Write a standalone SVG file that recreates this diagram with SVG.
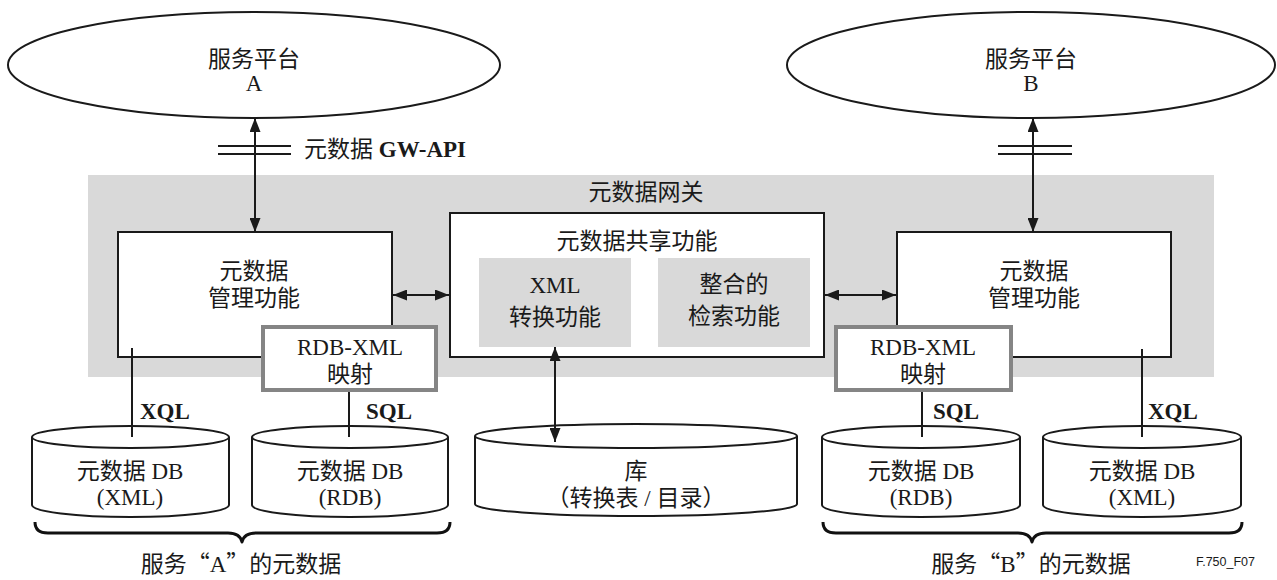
<svg xmlns="http://www.w3.org/2000/svg" width="1277" height="580" viewBox="0 0 1277 580">
  <defs>
    <style>
      .t { font-family: "Liberation Serif", "Noto Sans CJK SC", serif; font-size: 23px; fill: #1a1a1a; text-anchor: middle; }
      .q { font-family: "Noto Sans CJK SC", sans-serif; }
      .b { font-weight: bold; }
      .code { font-family: "Liberation Sans", Arial, sans-serif; font-size: 12.5px; fill: #1a1a1a; text-anchor: end; }
      .box { fill: #ffffff; stroke: #1a1a1a; stroke-width: 2; }
      .zone { fill: #d9d9d9; }
      .sub { fill: #d9d9d9; }
      .map { fill: #ffffff; stroke: #858585; stroke-width: 4; }
      .cyl { fill: #ffffff; stroke: #1a1a1a; stroke-width: 2; }
      .ln { stroke: #1a1a1a; stroke-width: 2; fill: none; }
      .arr { stroke: #1a1a1a; stroke-width: 2; fill: none; marker-start: url(#ah); marker-end: url(#ah); }
      .brace { stroke: #111111; stroke-width: 3; fill: none; stroke-linejoin: round; }
    </style>
    <marker id="ah" viewBox="0 0 14 11" refX="14" refY="5.5" markerWidth="14" markerHeight="11" markerUnits="userSpaceOnUse" orient="auto-start-reverse">
      <path d="M0,0 L14,5.5 L0,11 z" fill="#1a1a1a"/>
    </marker>
  </defs>

  <rect width="1277" height="580" fill="#ffffff"/>

  <!-- gateway zone -->
  <g id="gateway">
    <rect class="zone" x="88" y="175" width="1126" height="202"/>
    <text class="t" x="646" y="200">元数据网关</text>
  </g>

  <!-- service platforms -->
  <g id="platform-a">
    <ellipse class="box" cx="254" cy="65" rx="246" ry="53"/>
    <text class="t" x="254" y="67">服务平台</text>
    <text class="t" x="254" y="91">A</text>
  </g>
  <g id="platform-b">
    <ellipse class="box" cx="1031" cy="65" rx="244" ry="53"/>
    <text class="t" x="1031" y="67">服务平台</text>
    <text class="t" x="1031" y="91">B</text>
  </g>

  <!-- management functions -->
  <g id="mgmt-a">
    <rect class="box" x="118" y="232" width="274" height="125"/>
    <text class="t" x="254" y="279">元数据</text>
    <text class="t" x="254" y="306">管理功能</text>
  </g>
  <g id="mgmt-b">
    <rect class="box" x="897" y="232" width="274" height="125"/>
    <text class="t" x="1034" y="279">元数据</text>
    <text class="t" x="1034" y="306">管理功能</text>
  </g>

  <!-- sharing function -->
  <g id="sharing">
    <rect class="box" x="450" y="213" width="374" height="144"/>
    <text class="t" x="637" y="249">元数据共享功能</text>
    <g id="xml-conv">
      <rect class="sub" x="479" y="258" width="152" height="89"/>
      <text class="t" x="555" y="293">XML</text>
      <text class="t" x="555" y="325">转换功能</text>
    </g>
    <g id="search">
      <rect class="sub" x="658" y="258" width="152" height="89"/>
      <text class="t" x="734" y="292">整合的</text>
      <text class="t" x="734" y="324">检索功能</text>
    </g>
  </g>

  <!-- RDB-XML mappings -->
  <g id="map-a">
    <rect class="map" x="263" y="327" width="173" height="63"/>
    <text class="t" x="350" y="355">RDB-XML</text>
    <text class="t" x="350" y="382">映射</text>
  </g>
  <g id="map-b">
    <rect class="map" x="836" y="327" width="175" height="63"/>
    <text class="t" x="923" y="355">RDB-XML</text>
    <text class="t" x="923" y="382">映射</text>
  </g>

  <!-- databases -->
  <g id="db-a-xml">
    <path class="cyl" d="M32,437 V505 A98.5,12 0 0 0 229,505 V437"/>
    <ellipse class="cyl" cx="130.5" cy="437" rx="98.5" ry="11"/>
    <text class="t" x="130" y="479">元数据 DB</text>
    <text class="t" x="130" y="505">(XML)</text>
  </g>
  <g id="db-a-rdb">
    <path class="cyl" d="M252,437 V505 A98,12 0 0 0 448,505 V437"/>
    <ellipse class="cyl" cx="350" cy="437" rx="98" ry="11"/>
    <text class="t" x="350" y="479">元数据 DB</text>
    <text class="t" x="350" y="505">(RDB)</text>
  </g>
  <g id="repository">
    <path class="cyl" d="M475,436 V504 A161,12 0 0 0 797,504 V436"/>
    <ellipse class="cyl" cx="636" cy="436" rx="161" ry="12"/>
    <text class="t" x="636" y="479">库</text>
    <text class="t" x="636" y="506">（转换表 / 目录）</text>
  </g>
  <g id="db-b-rdb">
    <path class="cyl" d="M822,437 V505 A99,12 0 0 0 1020,505 V437"/>
    <ellipse class="cyl" cx="921" cy="437" rx="99" ry="11"/>
    <text class="t" x="921" y="479">元数据 DB</text>
    <text class="t" x="921" y="505">(RDB)</text>
  </g>
  <g id="db-b-xml">
    <path class="cyl" d="M1043,437 V505 A99,12 0 0 0 1241,505 V437"/>
    <ellipse class="cyl" cx="1142" cy="437" rx="99" ry="11"/>
    <text class="t" x="1142" y="479">元数据 DB</text>
    <text class="t" x="1142" y="505">(XML)</text>
  </g>

  <!-- connectors -->
  <g id="connectors">
    <line class="arr" x1="255" y1="118" x2="255" y2="232"/>
    <line class="ln" x1="218" y1="146" x2="291" y2="146"/>
    <line class="ln" x1="218" y1="154" x2="291" y2="154"/>
    <line class="arr" x1="1033" y1="118" x2="1033" y2="232"/>
    <line class="ln" x1="998" y1="146" x2="1072" y2="146"/>
    <line class="ln" x1="998" y1="154" x2="1072" y2="154"/>
    <line class="arr" x1="393" y1="295" x2="449" y2="295"/>
    <line class="arr" x1="825" y1="295" x2="896" y2="295"/>
    <line class="arr" x1="555" y1="347" x2="555" y2="442"/>
    <line class="ln" x1="132" y1="348" x2="132" y2="437"/>
    <line class="ln" x1="349" y1="392" x2="349" y2="437"/>
    <line class="ln" x1="922" y1="392" x2="922" y2="437"/>
    <line class="ln" x1="1142" y1="349" x2="1142" y2="437"/>
  </g>

  <!-- connector labels -->
  <g id="labels">
    <text class="t" x="304" y="157" style="text-anchor:start">元数据 <tspan class="b">GW-API</tspan></text>
    <text class="t b" x="140" y="419" style="text-anchor:start">XQL</text>
    <text class="t b" x="366" y="419" style="text-anchor:start">SQL</text>
    <text class="t b" x="933" y="419" style="text-anchor:start">SQL</text>
    <text class="t b" x="1148" y="419" style="text-anchor:start">XQL</text>
  </g>

  <!-- grouping braces -->
  <g id="brace-a">
    <path class="brace" d="M35,522 Q35,533 48,533 L228,533 Q240,533 242,542 Q244,533 256,533 L437,533 Q450,533 450,522"/>
    <text class="t" x="241" y="572">服务<tspan class="q">“</tspan>A<tspan class="q">”</tspan>的元数据</text>
  </g>
  <g id="brace-b">
    <path class="brace" d="M823,522 Q823,533 836,533 L1018,533 Q1030,533 1032,542 Q1034,533 1046,533 L1229,533 Q1242,533 1242,522"/>
    <text class="t" x="1031" y="572">服务<tspan class="q">“</tspan>B<tspan class="q">”</tspan>的元数据</text>
  </g>

  <text class="code" x="1255" y="566">F.750_F07</text>
</svg>
